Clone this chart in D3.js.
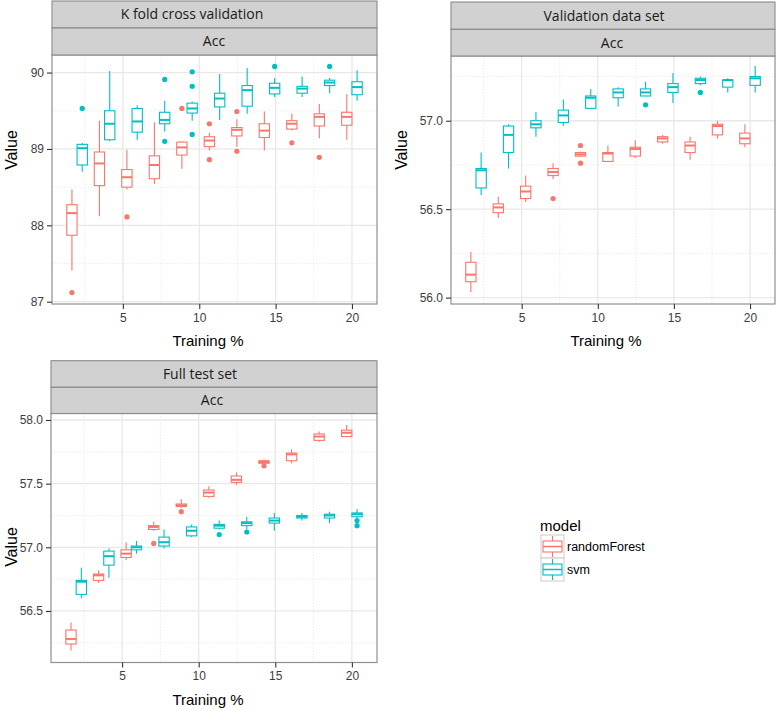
<!DOCTYPE html>
<html><head><meta charset="utf-8">
<script src="https://cdn.jsdelivr.net/npm/d3@7"></script>
<style>
body{margin:0;background:#fff;}
svg{display:block;font-family:"Liberation Sans",Arial,sans-serif;}
</style></head>
<body><svg id="chart" width="778" height="711"></svg>
<script>
// ---------------- DATA ----------------
const trainingPct = [2, 3.8, 5.6, 7.4, 9.2, 11, 12.8, 14.6, 16.4, 18.2, 20];
const models = ["randomForest", "svm"];
const xTicks = [5, 10, 15, 20];
const xMinor = [2.5, 7.5, 12.5, 17.5];

// box stats: [lower whisker, q1, median, q3, upper whisker]
const kfoldRF = [
  [87.41, 87.87, 88.16, 88.27, 88.47], [88.12, 88.52, 88.81, 88.96, 89.37],
  [88.47, 88.50, 88.63, 88.73, 88.99], [88.54, 88.61, 88.79, 88.91, 89.35],
  [88.74, 88.92, 89.02, 89.09, 89.10], [88.98, 89.03, 89.11, 89.16, 89.21],
  [89.03, 89.17, 89.25, 89.28, 89.39], [88.98, 89.15, 89.24, 89.33, 89.49],
  [89.24, 89.26, 89.33, 89.37, 89.46], [89.14, 89.30, 89.42, 89.46, 89.59],
  [89.12, 89.31, 89.42, 89.48, 89.72]];
const kfoldSVM = [
  [88.70, 88.79, 89.01, 89.06, 89.08], [89.10, 89.12, 89.33, 89.50, 90.02],
  [89.12, 89.22, 89.36, 89.53, 89.57], [89.23, 89.33, 89.38, 89.48, 89.63],
  [89.37, 89.47, 89.53, 89.60, 89.62], [89.38, 89.55, 89.66, 89.73, 89.98],
  [89.46, 89.56, 89.77, 89.83, 90.06], [89.68, 89.72, 89.80, 89.86, 89.93],
  [89.68, 89.73, 89.79, 89.82, 89.95], [89.73, 89.83, 89.87, 89.90, 89.93],
  [89.63, 89.71, 89.81, 89.88, 90.03]];
const kfoldRFOut = [[2, 87.12], [5.6, 88.11], [9.2, 89.53], [11, 89.33], [11, 88.86], [12.8, 89.49], [12.8, 88.97], [16.4, 89.08], [18.2, 88.89]];
const kfoldSVMOut = [[2, 89.53], [7.4, 89.91], [7.4, 89.10], [9.2, 90.01], [9.2, 89.82], [9.2, 89.19], [14.6, 90.08], [18.2, 90.08]];

const validRF = [
  [56.03, 56.09, 56.13, 56.20, 56.26], [56.45, 56.48, 56.51, 56.53, 56.57],
  [56.54, 56.56, 56.60, 56.63, 56.69], [56.67, 56.69, 56.71, 56.73, 56.76],
  [56.795, 56.80, 56.81, 56.82, 56.825], [56.77, 56.77, 56.815, 56.82, 56.86],
  [56.79, 56.80, 56.84, 56.85, 56.89], [56.87, 56.88, 56.90, 56.91, 56.92],
  [56.78, 56.82, 56.86, 56.88, 56.91], [56.90, 56.92, 56.97, 56.98, 57.00],
  [56.85, 56.87, 56.90, 56.93, 56.98]];
const validSVM = [
  [56.58, 56.62, 56.72, 56.73, 56.82], [56.73, 56.82, 56.92, 56.97, 56.98],
  [56.91, 56.96, 56.98, 57.00, 57.05], [56.97, 56.99, 57.03, 57.06, 57.12],
  [57.07, 57.07, 57.13, 57.14, 57.18], [57.08, 57.13, 57.16, 57.18, 57.19],
  [57.14, 57.14, 57.16, 57.18, 57.22], [57.10, 57.16, 57.19, 57.21, 57.27],
  [57.20, 57.21, 57.23, 57.24, 57.25], [57.16, 57.19, 57.23, 57.23, 57.24],
  [57.16, 57.20, 57.24, 57.25, 57.31]];
const validRFOut = [[7.4, 56.56], [9.2, 56.86], [9.2, 56.76]];
const validSVMOut = [[12.8, 57.09], [16.4, 57.16]];

const fullRF = [
  [56.19, 56.24, 56.28, 56.35, 56.41], [56.72, 56.74, 56.78, 56.79, 56.82],
  [56.90, 56.92, 56.95, 56.98, 57.04], [57.13, 57.14, 57.16, 57.17, 57.20],
  [57.31, 57.32, 57.33, 57.34, 57.38], [57.39, 57.40, 57.43, 57.45, 57.48],
  [57.49, 57.51, 57.53, 57.56, 57.59], [57.655, 57.66, 57.67, 57.68, 57.69],
  [57.66, 57.68, 57.73, 57.74, 57.77], [57.83, 57.84, 57.87, 57.89, 57.91],
  [57.87, 57.87, 57.90, 57.92, 57.96]];
const fullSVM = [
  [56.60, 56.63, 56.73, 56.74, 56.84], [56.76, 56.86, 56.93, 56.97, 56.99],
  [56.95, 56.98, 57.00, 57.01, 57.05], [56.99, 57.01, 57.04, 57.08, 57.14],
  [57.08, 57.09, 57.13, 57.16, 57.18], [57.14, 57.15, 57.17, 57.18, 57.21],
  [57.14, 57.17, 57.19, 57.20, 57.24], [57.13, 57.19, 57.21, 57.23, 57.27],
  [57.21, 57.23, 57.24, 57.25, 57.27], [57.19, 57.23, 57.25, 57.26, 57.28],
  [57.23, 57.24, 57.26, 57.27, 57.30]];
const fullRFOut = [[7.4, 57.03], [9.2, 57.28], [14.6, 57.64]];
const fullSVMOut = [[11, 57.10], [12.8, 57.12], [20, 57.21], [20, 57.17]];

const kfoldYTicks = [87, 88, 89, 90];
const kfoldYMinor = [87.5, 88.5, 89.5];
const validYTicks = [56.0, 56.5, 57.0];
const validYMinor = [56.25, 56.75, 57.25];
const fullYTicks = [56.5, 57.0, 57.5, 58.0];
const fullYMinor = [56.25, 56.75, 57.25, 57.75];

const panelTitles = ["K fold cross validation", "Validation data set", "Full test set"];
const metricLabel = "Acc";
const colors = {randomForest: "#F8766D", svm: "#00BFC4"};

// ---------------- LAYOUT ----------------
const panels = [
  {title: panelTitles[0], rf: kfoldRF, svm: kfoldSVM, rfOut: kfoldRFOut, svmOut: kfoldSVMOut,
   yTicks: kfoldYTicks, yMinor: kfoldYMinor, fmt: d3.format("d"), yDomain: [86.97, 90.23],
   L: 52, R: 377, T: 55, B: 304, s1: [1, 28], s1x: 192, s2x: 214, valueY: 150, valueX: 11, titleX: 208},
  {title: panelTitles[1], rf: validRF, svm: validSVM, rfOut: validRFOut, svmOut: validSVMOut,
   yTicks: validYTicks, yMinor: validYMinor, fmt: d3.format(".1f"), yDomain: [55.964, 57.366],
   L: 451, R: 775, T: 56, B: 304, s1: [2, 29.3], s1x: 604, s2x: 612, valueY: 150, valueX: 401, titleX: 606},
  {title: panelTitles[2], rf: fullRF, svm: fullSVM, rfOut: fullRFOut, svmOut: fullSVMOut,
   yTicks: fullYTicks, yMinor: fullYMinor, fmt: d3.format(".1f"), yDomain: [56.095, 58.051],
   L: 51, R: 377, T: 413.5, B: 662.5, s1: [360.7, 387.3], s1x: 200, s2x: 212, valueY: 547, valueX: 11, titleX: 208}
];

const svg = d3.select("#chart");
const xDomain = [0.3575, 21.64];
const dodge = 0.3375, boxW = 0.675;

panels.forEach(p => {
  const x = d3.scaleLinear().domain(xDomain).range([p.L, p.R]);
  const y = d3.scaleLinear().domain(p.yDomain).range([p.B, p.T]);
  const g = svg.append("g");

  // grid
  g.selectAll(".ymin").data(p.yMinor).enter().append("line")
    .attr("x1", p.L).attr("x2", p.R).attr("y1", d => y(d)).attr("y2", d => y(d))
    .attr("stroke", "#e6e6e6").attr("stroke-width", 0.7).attr("stroke-dasharray", "1.5,1.5");
  g.selectAll(".xmin").data(xMinor).enter().append("line")
    .attr("y1", p.T).attr("y2", p.B).attr("x1", d => x(d)).attr("x2", d => x(d))
    .attr("stroke", "#e6e6e6").attr("stroke-width", 0.7).attr("stroke-dasharray", "1.5,1.5");
  g.selectAll(".ymaj").data(p.yTicks).enter().append("line")
    .attr("x1", p.L).attr("x2", p.R).attr("y1", d => y(d)).attr("y2", d => y(d))
    .attr("stroke", "#e8e8e8").attr("stroke-width", 1.3);
  g.selectAll(".xmaj").data(xTicks).enter().append("line")
    .attr("y1", p.T).attr("y2", p.B).attr("x1", d => x(d)).attr("x2", d => x(d))
    .attr("stroke", "#e8e8e8").attr("stroke-width", 1.3);

  // boxes
  const series = [{m: "randomForest", stats: p.rf, out: p.rfOut, off: -dodge},
                  {m: "svm", stats: p.svm, out: p.svmOut, off: dodge}];
  series.forEach(s => {
    const col = colors[s.m];
    const bg = g.append("g");
    s.stats.forEach((st, i) => {
      const cx = trainingPct[i] + s.off;
      const xl = x(cx - boxW / 2), xr = x(cx + boxW / 2), xc = x(cx);
      bg.append("line").attr("x1", xc).attr("x2", xc).attr("y1", y(st[0])).attr("y2", y(st[1]))
        .attr("stroke", col).attr("stroke-width", 1.1);
      bg.append("line").attr("x1", xc).attr("x2", xc).attr("y1", y(st[3])).attr("y2", y(st[4]))
        .attr("stroke", col).attr("stroke-width", 1.1);
      bg.append("rect").attr("x", xl).attr("width", xr - xl)
        .attr("y", y(st[3])).attr("height", Math.max(0.5, y(st[1]) - y(st[3])))
        .attr("fill", "#fff").attr("stroke", col).attr("stroke-width", 1.1);
      bg.append("line").attr("x1", xl).attr("x2", xr).attr("y1", y(st[2])).attr("y2", y(st[2]))
        .attr("stroke", col).attr("stroke-width", 2);
    });
    bg.selectAll("circle").data(s.out).enter().append("circle")
      .attr("cx", d => x(d[0] + s.off)).attr("cy", d => y(d[1])).attr("r", 2.6).attr("fill", col);
  });

  // border
  g.append("rect").attr("x", p.L).attr("y", p.T).attr("width", p.R - p.L).attr("height", p.B - p.T)
    .attr("fill", "none").attr("stroke", "#8f8f8f").attr("stroke-width", 1.2);

  // strips
  const sMid = p.s1[1];
  [[p.s1[0], sMid, p.title, p.s1x], [sMid, p.T, metricLabel, p.s2x]].forEach(st => {
    g.append("rect").attr("x", p.L).attr("y", st[0]).attr("width", p.R - p.L).attr("height", st[1] - st[0])
      .attr("fill", "#d1d1d1").attr("stroke", "#8a8a8a").attr("stroke-width", 1.1);
    g.append("text").attr("x", st[3]).attr("y", (st[0] + st[1]) / 2).attr("dy", "0.35em")
      .attr("text-anchor", "middle").attr("font-family", "'Open Sans', 'Liberation Sans', sans-serif")
      .attr("font-size", 14).attr("fill", "#1a1a1a").text(st[2]);
  });

  // axes
  const yAxis = d3.axisLeft(y).tickValues(p.yTicks).tickFormat(p.fmt).tickSize(5).tickPadding(3);
  const ya = g.append("g").attr("transform", `translate(${p.L},0)`).call(yAxis);
  const xAxis = d3.axisBottom(x).tickValues(xTicks).tickFormat(d3.format("d")).tickSize(5).tickPadding(4);
  const xa = g.append("g").attr("transform", `translate(0,${p.B})`).call(xAxis);
  [ya, xa].forEach(a => {
    a.select(".domain").remove();
    a.selectAll(".tick line").attr("stroke", "#333").attr("stroke-width", 1.1);
    a.selectAll(".tick text").attr("fill", "#3d3d3d").attr("font-size", 12)
      .attr("font-family", "'Liberation Sans', Arial, sans-serif");
  });

  g.append("text").attr("transform", `translate(${p.valueX},${p.valueY}) rotate(-90)`)
    .attr("text-anchor", "middle").attr("dy", "0.35em").attr("font-size", 16).attr("fill", "#000").text("Value");
  g.append("text").attr("x", p.titleX).attr("y", p.B + 37).attr("dy", "0.35em")
    .attr("text-anchor", "middle").attr("font-size", 15).attr("fill", "#000").text("Training %");
});

// legend
const lg = svg.append("g");
lg.append("text").attr("x", 540).attr("y", 526).attr("dy", "0.35em").attr("font-size", 15).text("model");
models.forEach((m, i) => {
  const ky = 535 + i * 23;
  const col = colors[m];
  lg.append("rect").attr("x", 541).attr("y", ky).attr("width", 23).attr("height", 23)
    .attr("fill", "#fff").attr("stroke", "#cccccc").attr("stroke-width", 1);
  lg.append("line").attr("x1", 552.5).attr("x2", 552.5).attr("y1", ky + 1).attr("y2", ky + 22)
    .attr("stroke", col).attr("stroke-width", 1.1);
  lg.append("rect").attr("x", 543).attr("y", ky + 6).attr("width", 19).attr("height", 11)
    .attr("fill", "#fff").attr("stroke", col).attr("stroke-width", 1.1);
  lg.append("line").attr("x1", 543).attr("x2", 562).attr("y1", ky + 11.5).attr("y2", ky + 11.5)
    .attr("stroke", col).attr("stroke-width", 1.5);
  lg.append("text").attr("x", 567).attr("y", ky + 12).attr("dy", "0.35em").attr("font-size", 12.5)
    .attr("fill", "#000").text(m);
});
</script></body></html>
